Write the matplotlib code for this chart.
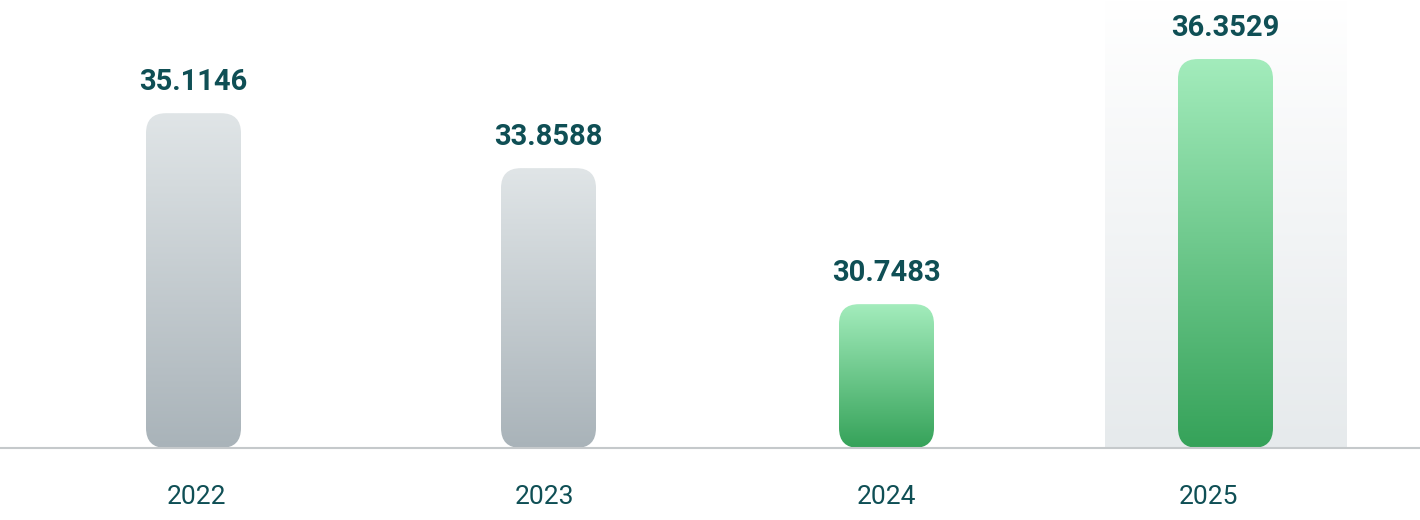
import numpy as np
import matplotlib
matplotlib.use("Agg")
import matplotlib.pyplot as plt
from matplotlib.patches import FancyBboxPatch
from matplotlib.colors import LinearSegmentedColormap

# data
years = ["2022", "2023", "2024", "2025"]
values = [35.1146, 33.8588, 30.7483, 36.3529]
labels = ["35.1146", "33.8588", "30.7483", "36.3529"]

# layout (pixels across, value axis in data units)
bar_x = [193.5, 548.5, 886.5, 1225.5]
year_x = [196, 545, 887, 1208]
bar_w = 95
base = 27.46
px_per_unit = 43.74
text_color = "#0f4f55"

gray_cmap = LinearSegmentedColormap.from_list("g", ["#a9b3b9", "#e0e5e7"])
green_cmap = LinearSegmentedColormap.from_list("gr", ["#35a259", "#a3ecbc"])
bg_cmap = LinearSegmentedColormap.from_list("bg", ["#e6eaec", "#ffffff"])
cmaps = [gray_cmap, gray_cmap, green_cmap, green_cmap]

fig = plt.figure(figsize=(14.2, 5.2), dpi=100)
ax = fig.add_axes([0, 72 / 520, 1, 448 / 520])
top = base + 448 / px_per_unit
ax.set_xlim(0, 1420)
ax.set_ylim(base, top)

grad = np.linspace(0, 1, 256).reshape(-1, 1)

# highlight behind last year
ax.imshow(grad, cmap=bg_cmap, origin="lower", aspect="auto",
          extent=[1105, 1347, base, top], zorder=0)

for x, v, cm in zip(bar_x, values, cmaps):
    patch = FancyBboxPatch((x - bar_w / 2, base), bar_w, v - base,
                           boxstyle="round,pad=0,rounding_size=20",
                           mutation_aspect=1 / px_per_unit,
                           facecolor="none", edgecolor="none")
    ax.add_patch(patch)
    im = ax.imshow(grad, cmap=cm, origin="lower", aspect="auto",
                   extent=[x - bar_w / 2, x + bar_w / 2, base, v], zorder=2)
    im.set_clip_path(patch)

for x, v, lab in zip(bar_x, values, labels):
    ax.annotate(lab, (x, v), xytext=(0, 17), textcoords="offset pixels",
                ha="center", va="bottom", fontsize=21, fontweight="bold",
                family="Roboto", color=text_color)

ax.set_xticks(year_x)
ax.set_xticklabels(years, fontsize=19, family="Roboto", color=text_color)
ax.tick_params(axis="x", length=0, pad=27)
ax.set_yticks([])
for s in ["top", "left", "right"]:
    ax.spines[s].set_visible(False)
ax.spines["bottom"].set_color("#c5c9cb")
ax.spines["bottom"].set_linewidth(1.5)
ax.spines["bottom"].set_zorder(3)

fig.savefig("out.png", dpi=100)
